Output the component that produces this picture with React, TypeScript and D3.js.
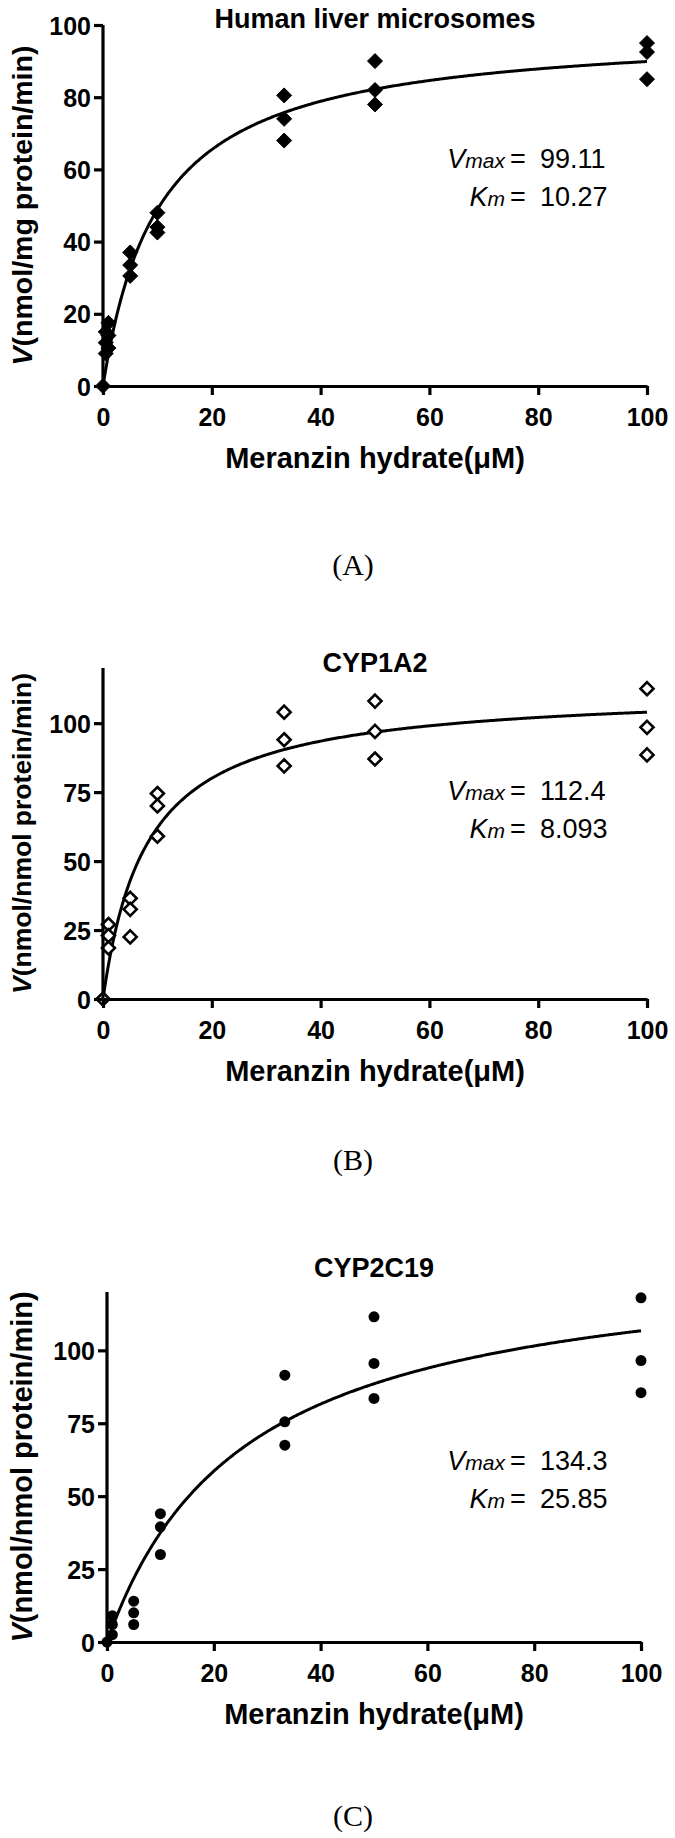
import React, { useEffect, useRef } from 'react';
import { select, scaleLinear, axisBottom, axisLeft, line, range } from 'd3';

// substrate concentrations (µM)
const concA = [0, 0.5, 1, 5, 10, 33.3, 50, 100];
const concBC = [0, 1, 5, 10, 33.3, 50, 100];

// replicate velocities
const velA = [[0], [15, 12, 9], [17.5, 14, 10.5], [37, 33.5, 30.5], [48, 44, 42.5], [80.5, 74, 68], [90, 82, 78], [95, 92.5, 85]];
const velB = [[0], [27, 23, 18.5], [36.5, 32.5, 22.5], [74.5, 70, 59], [104, 94, 84.5], [108, 97, 87], [112.5, 98.5, 88.5]];
const velC = [[0], [9, 6, 2.5], [14, 10, 6], [44, 39.5, 30], [91.5, 75.5, 67.5], [111.5, 95.5, 83.5], [118, 96.5, 85.5]];

const xTicks = [0, 20, 40, 60, 80, 100];
const yTicksA = [0, 20, 40, 60, 80, 100];
const yTicksBC = [0, 25, 50, 75, 100];

// Michaelis-Menten fit parameters shown on the panels
const vmaxText = ['99.11', '112.4', '134.3'];
const kmText = ['10.27', '8.093', '25.85'];

const W = 675;
const H = 1838;
const SANS = '"Liberation Sans", Arial, Helvetica, sans-serif';

const panels = [
  {
    title: 'Human liver microsomes', label: '(A)', unit: '(nmol/mg protein/min)', marker: 'diamond',
    conc: concA, vel: velA, yTicks: yTicksA, yMax: 100,
    left: 103, right: 647, top: 25, bottom: 386, titleY: 28, labelY: 575, ylabSize: 28.5,
    annY: 168, vmax: vmaxText[0], km: kmText[0]
  },
  {
    title: 'CYP1A2', label: '(B)', unit: '(nmol/nmol protein/min)', marker: 'open',
    conc: concBC, vel: velB, yTicks: yTicksBC, yMax: 120,
    left: 103, right: 647, top: 668, bottom: 999, titleY: 672, labelY: 1170, ylabSize: 26.5,
    annY: 800, vmax: vmaxText[1], km: kmText[1]
  },
  {
    title: 'CYP2C19', label: '(C)', unit: '(nmol/nmol protein/min)', marker: 'dot',
    conc: concBC, vel: velC, yTicks: yTicksBC, yMax: 120,
    left: 107, right: 641, top: 1292, bottom: 1642, titleY: 1277, labelY: 1826, ylabSize: 29,
    annY: 1470, vmax: vmaxText[2], km: kmText[2]
  }
];

function drawPanel(svg, p) {
  const x = scaleLinear().domain([0, 100]).range([p.left, p.right]);
  const y = scaleLinear().domain([0, p.yMax]).range([p.bottom, p.top]);
  const g = svg.append('g');

  // fitted Michaelis-Menten curve from the printed Vmax / Km
  const vmax = +p.vmax;
  const km = +p.km;
  const pts = range(0, 100.01, 0.25).map(s => [s, (vmax * s) / (km + s)]);
  g.append('path')
    .datum(pts)
    .attr('fill', 'none')
    .attr('stroke', '#000')
    .attr('stroke-width', 3)
    .attr('d', line().x(d => x(d[0])).y(d => y(d[1])));

  // replicate points
  const flat = [];
  p.conc.forEach((c, i) => p.vel[i].forEach(v => flat.push([c, v])));
  const m = g.append('g');
  if (p.marker === 'dot') {
    m.selectAll('circle').data(flat).enter().append('circle')
      .attr('cx', d => x(d[0])).attr('cy', d => y(d[1])).attr('r', 5.5).attr('fill', '#000');
  } else {
    const s = p.marker === 'open' ? 6.5 : 7.5;
    m.selectAll('path').data(flat).enter().append('path')
      .attr('d', `M0,${-s}L${s},0L0,${s}L${-s},0Z`)
      .attr('transform', d => `translate(${x(d[0])},${y(d[1])})`)
      .attr('fill', p.marker === 'open' ? '#fff' : '#000')
      .attr('stroke', '#000')
      .attr('stroke-width', p.marker === 'open' ? 2.6 : 1);
  }

  // axes (drawn over the points, as in the original)
  const xa = g.append('g')
    .attr('transform', `translate(0,${p.bottom})`)
    .call(axisBottom(x).tickValues(xTicks).tickSize(9).tickSizeOuter(0).tickPadding(5));
  const ya = g.append('g')
    .attr('transform', `translate(${p.left},0)`)
    .call(axisLeft(y).tickValues(p.yTicks).tickSize(9).tickSizeOuter(0).tickPadding(3));
  [xa, ya].forEach(a => {
    a.select('.domain').attr('stroke', '#000').attr('stroke-width', 3.2);
    a.selectAll('.tick line').attr('stroke', '#000').attr('stroke-width', 3.2);
    a.selectAll('.tick text')
      .attr('fill', '#000')
      .style('font-family', SANS)
      .style('font-weight', 'bold')
      .style('font-size', '25px');
  });
  ya.select('.domain').attr('d', `M0,${p.bottom}V${p.top}`);
  xa.selectAll('.tick text').attr('dy', '1.05em');
  ya.selectAll('.tick text').attr('dy', '0.36em');

  const cx = (p.left + p.right) / 2;
  // title
  g.append('text')
    .attr('x', cx).attr('y', p.titleY)
    .attr('text-anchor', 'middle')
    .style('font-family', SANS).style('font-weight', 'bold').style('font-size', '27px')
    .text(p.title);

  // x axis title
  g.append('text')
    .attr('x', cx).attr('y', p.bottom + 82)
    .attr('text-anchor', 'middle')
    .style('font-family', SANS).style('font-weight', 'bold').style('font-size', '29px')
    .text('Meranzin hydrate(\u03bcM)');

  // y axis title
  const yl = g.append('text')
    .attr('transform', `translate(22,${(p.top + p.bottom) / 2}) rotate(-90)`)
    .attr('text-anchor', 'middle')
    .attr('dominant-baseline', 'central')
    .style('font-family', SANS).style('font-weight', 'bold').style('font-size', `${p.ylabSize}px`);
  yl.append('tspan').style('font-style', 'italic').text('V');
  yl.append('tspan').text(p.unit);

  // Vmax / Km annotation
  const ann = g.append('g').style('font-family', SANS).style('font-size', '27px');
  const rows = [['V', 'max', p.vmax, p.annY], ['K', 'm', p.km, p.annY + 38]];
  rows.forEach(r => {
    const t = ann.append('text').attr('x', 505).attr('y', r[3]).attr('text-anchor', 'end');
    t.append('tspan').style('font-style', 'italic').text(r[0]);
    t.append('tspan').style('font-style', 'italic').style('font-size', '21px').text(r[1]);
    ann.append('text').attr('x', 510).attr('y', r[3]).text('=');
    ann.append('text').attr('x', 540).attr('y', r[3]).text(r[2]);
  });

  // panel letter
  g.append('text')
    .attr('x', 353).attr('y', p.labelY)
    .attr('text-anchor', 'middle')
    .style('font-family', '"Liberation Serif", "Times New Roman", serif')
    .style('font-size', '30px')
    .text(p.label);
}

export default function App() {
  const ref = useRef(null);

  useEffect(() => {
    const svg = select(ref.current);
    svg.selectAll('*').remove();
    panels.forEach(p => drawPanel(svg, p));
    return () => {
      svg.selectAll('*').remove();
    };
  }, []);

  return (
    <svg
      ref={ref}
      width={W}
      height={H}
      style={{ position: 'absolute', left: 0, top: 0, background: '#fff' }}
    />
  );
}
